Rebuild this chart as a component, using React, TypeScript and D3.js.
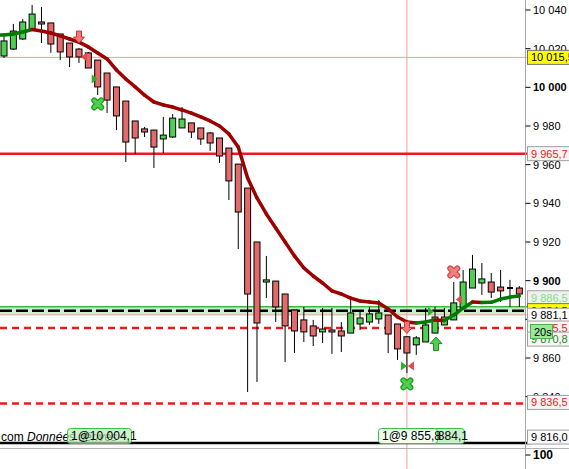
import React from "react";
import * as d3 from "d3";

// ---- candle data (price) ----
const opens = [10016.2,10019.8,10025.0,10030.2,10033.8,10033.3,10027.6,10022.9,10019.8,10017.8,10014.1,10007.4,10000.2,9992.9,9982.6,9978.5,9977.9,9973.3,9974.3,9979.0,9981.6,9979.0,9976.4,9973.8,9968.6,9960.3,9947.9,9920.0,9899.3,9899.8,9893.1,9884.8,9879.7,9876.6,9873.5,9874.5,9874.0,9872.9,9877.6,9878.6,9880.2,9882.2,9877.6,9871.0,9866.8,9868.3,9872.9,9877.1,9879.7,9885.9,9896.2,9898.8,9899.3,9896.7,9896.2,9896.2];
const highs = [10026.0,10032.8,10035.3,10042.6,10041.6,10033.3,10027.6,10022.9,10020.3,10018.3,10014.1,10007.4,10000.2,9992.9,9982.6,9979.5,9977.9,9984.7,9986.2,9989.8,9981.6,9979.0,9976.9,9973.8,9968.6,9960.3,9947.9,9920.0,9912.8,9899.8,9893.1,9884.8,9886.4,9879.7,9885.9,9885.9,9878.6,9890.5,9884.8,9886.4,9890.0,9882.2,9877.6,9871.0,9871.4,9885.9,9886.4,9885.9,9899.3,9905.5,9913.3,9909.1,9904.0,9905.5,9900.4,9897.2];
const lows = [10015.2,10019.3,10024.5,10029.7,10022.9,10017.8,10014.1,10010.5,10012.6,10010.0,9996.0,9986.7,9977.9,9961.4,9965.5,9974.3,9958.3,9966.0,9973.8,9979.0,9973.8,9970.2,9967.1,9960.9,9941.7,9916.4,9842.4,9847.6,9891.0,9878.6,9857.9,9862.6,9868.3,9866.2,9867.8,9862.1,9863.1,9872.9,9874.5,9877.1,9877.6,9862.6,9859.0,9852.2,9861.6,9868.3,9872.9,9877.1,9879.7,9885.9,9896.2,9892.6,9891.0,9889.0,9886.4,9886.4];
const closes = [10024.0,10029.1,10033.8,10037.9,10032.8,10022.4,10018.3,10015.7,10015.7,10010.0,10000.2,9993.4,9985.2,9971.7,9973.8,9976.9,9969.1,9975.3,9984.1,9983.6,9976.9,9973.3,9971.2,9964.5,9951.6,9935.5,9893.1,9878.1,9900.4,9886.4,9876.6,9874.0,9873.5,9871.4,9875.0,9873.5,9871.4,9883.3,9880.7,9882.8,9883.3,9872.4,9864.7,9862.6,9870.4,9877.1,9881.2,9881.2,9888.5,9899.3,9906.0,9900.9,9894.1,9894.7,9896.2,9893.1];
const maValues = [10027.1,10027.6,10028.6,10029.9,10029.1,10028.1,10026.6,10025.0,10023.4,10020.9,10017.8,10014.7,10009.0,10004.3,10000.2,9996.0,9992.4,9990.9,9989.8,9988.3,9986.7,9984.7,9982.6,9980.0,9975.9,9969.1,9953.1,9942.8,9934.5,9927.2,9920.0,9912.8,9906.6,9902.4,9898.8,9894.7,9893.1,9891.0,9889.5,9889.0,9888.5,9885.4,9881.2,9878.6,9878.1,9878.6,9879.7,9879.4,9882.2,9885.8,9889.0,9888.7,9888.8,9890.5,9891.5,9892.1];

// ---- axis ticks ----
const yTicks = [10040, 10020, 10000, 9980, 9960, 9940, 9920, 9900, 9880, 9860, 9840];
const boldTicks = [10000, 9900];
const tickLabels = ["10 040", "10 020", "10 000", "9 980", "9 960", "9 940", "9 920", "9 900", "9 880", "9 860", "9 840"];

// ---- horizontal levels ----
const levelPrices = [10015.5, 9965.7, 9886.5, 9884.5, 9882.3, 9875.5, 9836.5, 9816.0];
const levelKinds = ["pink", "redSolid", "green", "blackDash", "pink", "redDash", "redDash", "blackSolid"];
const bandTop = 9886.5;
const bandBottom = 9882.3;

// ---- axis tags ----
const tagTexts = ["10 015,5", "9 965,7", "9 886,5", "9 884,5", "9 881,1", "9 875,5", "9 870,8", "20s", "9 836,5", "9 816,0"];
const tagPrices = [10015.5, 9965.7, 9886.5, 9884.5, 9881.1, 9875.5, 9870.8, 9873.7, 9836.5, 9816.0];
const tagKinds = ["yellow", "redText", "lightGreen", "yellow", "plain", "redText", "greenText", "timer", "redText", "plain"];
const tagShift = [0, 0, -9, 0, -2, 0, 2, 0, -1, -6];

// ---- markers ----
const markerIdx = [8, 8, 10, 10, 48, 48, 46, 43, 43, 43, 43, 46];
const markerPrice = [10026.0, 10015.7, 10004.3, 9991.4, 9904.5, 9890.3, 9884.1, 9855.9, 9855.9, 9846.6, 9875.8, 9867.2];
const markerType = ["downArrow", "leftTri", "rightTri", "greenX", "redX", "leftTri", "rightTri", "rightTri", "leftTri", "greenX", "downArrow", "upArrow"];
const markerShift = [0, 5, -3, 0, 0, 5, -4, -3, 4, 0, 0, 1];
const crosshairIndex = 43;

const FONT = "'Liberation Sans', Arial, sans-serif";

function Marker({ type, px, py }: { type: string; px: number; py: number }) {
  if (type === "downArrow")
    return <path d={`M${px - 2.5},${py - 6} h5 v6 h3 l-5.5,6 l-5.5,-6 h3 z`} fill="#f07878" stroke="#c83030" strokeWidth={1} />;
  if (type === "upArrow")
    return <path d={`M${px},${py - 7} l6,6.5 h-3.5 v7 h-5 v-7 h-3.5 z`} fill="#50d050" stroke="#208820" strokeWidth={1} />;
  if (type === "leftTri") return <path d={`M${px - 3},${py} l6,-4.5 v9 z`} fill="#e84848" />;
  if (type === "rightTri") return <path d={`M${px + 3},${py} l-6,-4.5 v9 z`} fill="#28b028" />;
  const outer = type === "greenX" ? "#1e9a1e" : "#d04848";
  const inner = type === "greenX" ? "#50d050" : "#f08080";
  const d = `M${px - 3.5},${py - 3.5} L${px + 3.5},${py + 3.5} M${px + 3.5},${py - 3.5} L${px - 3.5},${py + 3.5}`;
  return (
    <g>
      <path d={d} stroke={outer} strokeWidth={6} strokeLinecap="round" />
      <path d={d} stroke={inner} strokeWidth={3.5} strokeLinecap="round" />
    </g>
  );
}

export default function App() {
  const W = 569, H = 469;
  const axisX = 525.5;
  const y = d3.scaleLinear().domain([9840, 10040]).range([396.67, 10]);
  const x = d3.scaleBand<number>().domain(d3.range(opens.length)).range([-0.685, 524.035]).padding(0);
  const cx = (i: number) => (x(i) as number) + x.bandwidth() / 2;
  const bw = 6;

  const levelStyle = (k: string) => {
    switch (k) {
      case "pink": return { stroke: "#eca0a0", strokeWidth: 1 };
      case "redSolid": return { stroke: "#f01818", strokeWidth: 2.5 };
      case "green": return { stroke: "#40b840", strokeWidth: 1.5 };
      case "blackDash": return { stroke: "#000", strokeWidth: 2.5, strokeDasharray: "12 4" };
      case "redDash": return { stroke: "#f01818", strokeWidth: 2.5, strokeDasharray: "7 5" };
      default: return { stroke: "#000", strokeWidth: 2.5 };
    }
  };

  const tagStyle = (k: string) => {
    switch (k) {
      case "yellow": return { bg: "#ffff00", fg: "#000", border: "#707070" };
      case "redText": return { bg: "#f6f6f6", fg: "#f01818", border: "#a0a0a0" };
      case "lightGreen": return { bg: "#f0f0f0", fg: "#80e080", border: "#a0a0a0" };
      case "greenText": return { bg: "#f6f6f6", fg: "#208a20", border: "#a0a0a0" };
      case "timer": return { bg: "#98e898", fg: "#000", border: "#50b050" };
      default: return { bg: "#fafafa", fg: "#000", border: "#a0a0a0" };
    }
  };

  return (
    <svg width={W} height={H} style={{ position: "absolute", left: 0, top: 0, background: "#fff" }} fontFamily={FONT}>
      <rect x={0} y={0} width={W} height={H} fill="#fff" />
      {/* band */}
      <rect x={0} y={y(bandTop)} width={axisX} height={y(bandBottom) - y(bandTop)} fill="#c8f0c8" />
      {/* crosshair vertical */}
      <line x1={cx(crosshairIndex)} x2={cx(crosshairIndex)} y1={0} y2={H} stroke="#eca0a0" strokeWidth={1} />
      {/* levels */}
      {levelPrices.map((p, i) => (
        <line key={"lv" + i} x1={0} x2={axisX + 4} y1={y(p)} y2={y(p)} {...levelStyle(levelKinds[i])} />
      ))}
      {/* candles */}
      {opens.map((o, i) => {
        const c = closes[i];
        const up = c > o;
        const flat = Math.abs(c - o) < 0.05;
        const top = y(Math.max(o, c));
        const bot = y(Math.min(o, c));
        return (
          <g key={"c" + i}>
            <line x1={cx(i)} x2={cx(i)} y1={y(highs[i])} y2={y(lows[i])} stroke="#000" strokeWidth={1} />
            {flat ? (
              <line x1={cx(i) - bw / 2} x2={cx(i) + bw / 2} y1={top} y2={top} stroke="#000" strokeWidth={2} />
            ) : (
              <rect x={cx(i) - bw / 2} y={top} width={bw} height={Math.max(bot - top, 2)}
                fill={up ? "#50d050" : "#e26a6a"} stroke="#000" strokeWidth={1} />
            )}
          </g>
        );
      })}
      {/* moving average */}
      {maValues.slice(0, -1).map((v, i) => {
        const n = maValues[i + 1];
        const col = n > v ? "#007a00" : "#9e0000";
        return (
          <line key={"ma" + i} x1={cx(i)} y1={y(v)} x2={cx(i + 1)} y2={y(n)} stroke={col} strokeWidth={3.5} strokeLinecap="round" />
        );
      })}
      <line x1={0} y1={y(maValues[0])} x2={cx(0)} y2={y(maValues[0])} stroke="#007a00" strokeWidth={3.5} strokeLinecap="round" />
      {/* markers */}
      {markerType.map((t, i) => (
        <Marker key={"m" + i} type={t} px={cx(markerIdx[i]) + markerShift[i]} py={y(markerPrice[i])} />
      ))}
      {/* axis */}
      <line x1={axisX} x2={axisX} y1={0} y2={H} stroke="#a8a8a8" strokeWidth={1} />
      {yTicks.map((t, i) => (
        <g key={"t" + i}>
          <line x1={axisX} x2={axisX + 5} y1={y(t)} y2={y(t)} stroke="#000" strokeWidth={1} />
          <text x={533} y={y(t) + 4} fontSize={11} fontWeight={boldTicks.includes(t) ? "bold" : "normal"} fill="#000">
            {tickLabels[i]}
          </text>
        </g>
      ))}
      {/* tags */}
      {tagTexts.map((t, i) => {
        const s = tagStyle(tagKinds[i]);
        const cy = y(tagPrices[i]) + tagShift[i];
        const timer = tagKinds[i] === "timer";
        const x0 = timer ? 530 : 527;
        const w = timer ? 22 : 60;
        return (
          <g key={"tag" + i}>
            <rect x={x0 + 0.5} y={cy - 7} width={w} height={14} fill={s.bg} stroke={s.border} strokeWidth={1} />
            <text x={x0 + 4} y={cy + 4} fontSize={11} fill={s.fg}>{t}</text>
          </g>
        );
      })}
      {/* lower panel */}
      <line x1={0} x2={W} y1={448.5} y2={448.5} stroke="#b0b0b0" strokeWidth={1} />
      <line x1={axisX} x2={axisX + 5} y1={455} y2={455} stroke="#000" strokeWidth={1} />
      <text x={533} y={459} fontSize={12} fontWeight="bold" fill="#000">100</text>
      {/* bottom texts */}
      <text x={1} y={441} fontSize={12} fill="#000">com <tspan fontStyle="italic">Données dérivés</tspan></text>
      <rect x={67.5} y={428.5} width={64} height={15} rx={3} fill="#b8ecb8" fillOpacity={0.7} stroke="#40c040" />
      <text x={71} y={440} fontSize={12} fill="#000">1@10 004,1</text>
      <rect x={405.5} y={428.5} width={59} height={15} rx={3} fill="#c8f0c8" stroke="#40c040" />
      <text x={409} y={440} fontSize={12} fill="#000">1@9 884,1</text>
      <rect x={378.5} y={428.5} width={59} height={15} rx={3} fill="#f0fff0" stroke="#40c040" />
      <text x={382} y={440} fontSize={12} fill="#000">1@9 855,8</text>
    </svg>
  );
}
